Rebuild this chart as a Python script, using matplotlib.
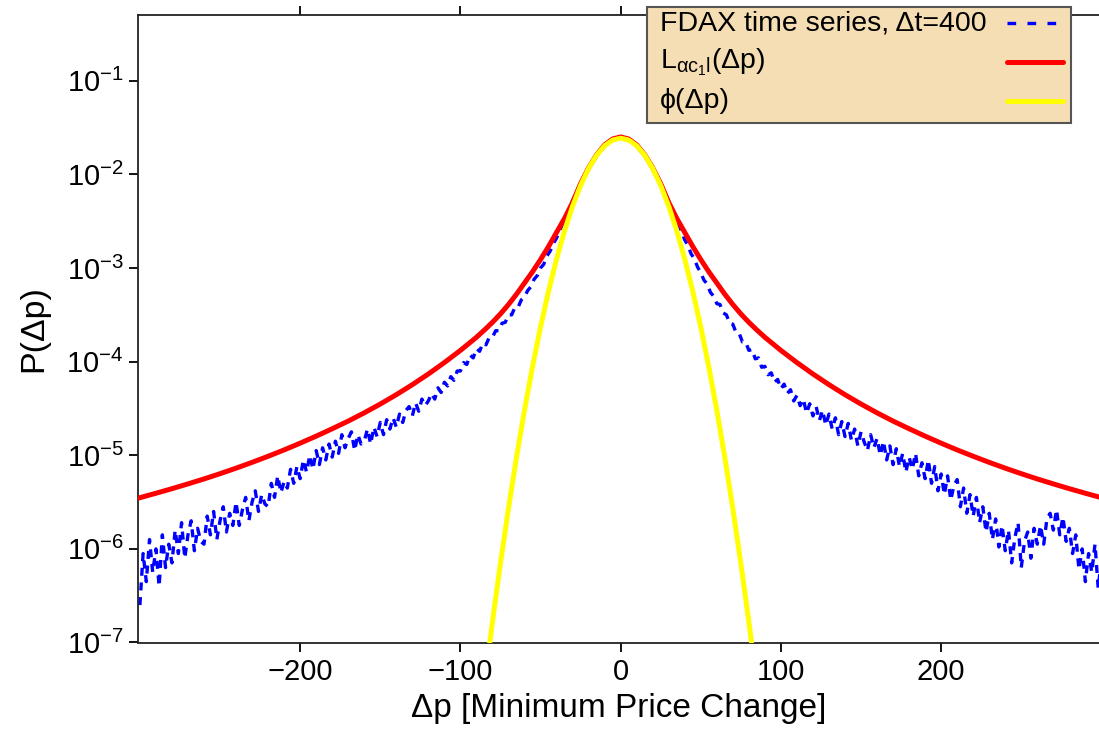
import numpy as np
import matplotlib
matplotlib.use("Agg")
import matplotlib.pyplot as plt
from matplotlib.lines import Line2D
from matplotlib.patches import Rectangle
from matplotlib.ticker import FixedLocator, FuncFormatter

plt.rcParams['font.family'] = ['Liberation Sans', 'DejaVu Sans']
plt.rcParams['mathtext.fontset'] = 'custom'
plt.rcParams['mathtext.rm'] = 'Liberation Sans'
plt.rcParams['mathtext.it'] = 'Liberation Sans'
plt.rcParams['mathtext.bf'] = 'Liberation Sans:bold'
plt.rcParams['mathtext.sf'] = 'Liberation Sans'

# ---------------- data (log10 of P) ----------------
# FDAX empirical distribution, dt = 400, sampled every 2 price units from -300 to 300
blue_x = np.arange(-300, 301, 2)
blue_log = [
    -6.60, -6.05, -6.35, -5.90, -6.25, -6.00, -6.40, -5.85, -6.20, -5.95,
    -6.15, -5.80, -6.05, -5.72, -6.10, -5.85, -5.70, -6.02, -5.78, -5.92,
    -5.95, -5.65, -5.85, -5.60, -5.90, -5.70, -5.55, -5.82, -5.62, -5.75,
    -5.50, -5.75, -5.58, -5.45, -5.70, -5.50, -5.38, -5.60, -5.42, -5.52,
    -5.55, -5.30, -5.45, -5.22, -5.40, -5.28, -5.35, -5.15, -5.30, -5.12,
    -5.25, -5.05, -5.18, -5.00, -5.15, -4.95, -5.10, -4.92, -5.05, -4.88,
    -5.02, -4.85, -4.98, -4.78, -4.92, -4.82, -4.75, -4.95, -4.78, -4.88,
    -4.85, -4.72, -4.88, -4.70, -4.80, -4.65, -4.78, -4.62, -4.72, -4.60,
    -4.70, -4.56, -4.65, -4.52, -4.48, -4.58, -4.44, -4.53, -4.40, -4.47,
    -4.42, -4.34, -4.40, -4.28, -4.33, -4.22, -4.26, -4.16, -4.20, -4.10,
    -4.10, -4.01, -4.03, -3.93, -3.96, -3.86, -3.89, -3.80, -3.82, -3.74,
    -3.74, -3.67, -3.67, -3.59, -3.58, -3.50, -3.50, -3.42, -3.42, -3.34,
    -3.31, -3.24, -3.20, -3.12, -3.08, -3.00, -2.96, -2.87, -2.82, -2.74,
    -2.68, -2.60, -2.52, -2.44, -2.36, -2.28, -2.21, -2.13, -2.06, -2.00,
    -1.94, -1.88, -1.83, -1.78, -1.74, -1.70, -1.67, -1.64, -1.62, -1.61,
    -1.60,
    -1.61, -1.62, -1.64, -1.67, -1.70, -1.74, -1.78, -1.83, -1.88, -1.94,
    -2.00, -2.06, -2.13, -2.21, -2.29, -2.37, -2.45, -2.53, -2.61, -2.70,
    -2.76, -2.85, -2.90, -2.99, -3.05, -3.13, -3.17, -3.26, -3.30, -3.38,
    -3.39, -3.48, -3.50, -3.59, -3.60, -3.69, -3.70, -3.79, -3.79, -3.88,
    -3.87, -3.97, -3.96, -4.06, -4.05, -4.14, -4.12, -4.22, -4.19, -4.29,
    -4.24, -4.34, -4.30, -4.42, -4.36, -4.47, -4.40, -4.55, -4.45, -4.58,
    -4.48, -4.63, -4.52, -4.68, -4.56, -4.72, -4.60, -4.78, -4.64, -4.80,
    -4.66, -4.84, -4.72, -4.90, -4.75, -4.86, -4.95, -4.78, -4.92, -4.82,
    -5.00, -4.85, -5.05, -4.90, -5.10, -4.93, -5.12, -4.98, -5.18, -5.02,
    -5.15, -4.98, -5.22, -5.08, -5.25, -5.05, -5.30, -5.12, -5.38, -5.20,
    -5.42, -5.22, -5.48, -5.32, -5.26, -5.55, -5.35, -5.62, -5.42, -5.65,
    -5.45, -5.72, -5.55, -5.82, -5.62, -5.90, -5.68, -5.98, -5.75, -6.02,
    -5.80, -6.15, -5.88, -5.72, -6.20, -5.92, -5.82, -6.10, -5.78, -5.95,
    -5.75, -5.95, -5.68, -5.62, -5.80, -5.58, -5.85, -5.66, -5.92, -5.78,
    -6.05, -5.85, -6.22, -6.00, -6.35, -6.05, -6.25, -5.95, -6.42, -6.10,
]

# Levy-type fit L_{alpha c1 l}
red_x = [-300, -290, -280, -270, -260, -250, -240, -230, -220, -210,
         -200, -190, -180, -170, -160, -150, -140, -130, -120, -110,
         -100, -95, -90, -85, -80, -75, -70, -65, -60, -55, -50, -45,
         -40, -35, -30, -25, -20, -15, -10, -5, 0,
         5, 10, 15, 20, 25, 30, 35, 40, 45, 50, 55, 60, 65, 70, 75, 80,
         85, 90, 95, 100, 110, 120, 130, 140, 150, 160, 170, 180, 190,
         200, 210, 220, 230, 240, 250, 260, 270, 280, 290, 300]
red_log = [-5.453, -5.406, -5.357, -5.306, -5.253, -5.197, -5.138, -5.076, -5.011, -4.943,
           -4.871, -4.796, -4.717, -4.635, -4.547, -4.453, -4.353, -4.246, -4.132, -4.010,
           -3.880, -3.810, -3.740, -3.662, -3.580, -3.490, -3.390, -3.280, -3.160, -3.040,
           -2.910, -2.770, -2.620, -2.470, -2.300, -2.100, -1.930, -1.790, -1.685, -1.622,
           -1.600,
           -1.622, -1.685, -1.790, -1.930, -2.100, -2.300, -2.470, -2.620, -2.770, -2.910,
           -3.040, -3.160, -3.280, -3.390, -3.490, -3.580, -3.662, -3.740, -3.810, -3.880,
           -4.010, -4.132, -4.246, -4.353, -4.453, -4.547, -4.635, -4.717, -4.796, -4.871,
           -4.943, -5.011, -5.076, -5.138, -5.197, -5.253, -5.306, -5.357, -5.406, -5.453]

# Gaussian phi
yel_x = [-85, -80, -75, -70, -65, -60, -55, -50, -45, -40, -35, -30, -25, -20,
         -15, -10, -5, 0, 5, 10, 15, 20, 25, 30, 35, 40, 45, 50, 55, 60, 65,
         70, 75, 80, 85]
yel_log = [-7.445, -6.779, -6.154, -5.568, -5.024, -4.519, -4.055, -3.631,
           -3.248, -2.905, -2.602, -2.340, -2.118, -1.936, -1.795, -1.694,
           -1.633, -1.613, -1.633, -1.694, -1.795, -1.936, -2.118, -2.340,
           -2.602, -2.905, -3.248, -3.631, -4.055, -4.519, -5.024, -5.568,
           -6.154, -6.779, -7.445]

x_ticks = [-200, -100, 0, 100, 200]
y_ticks = [1e-7, 1e-6, 1e-5, 1e-4, 1e-3, 1e-2, 1e-1]

legend_labels = ['FDAX time series, \u0394t=400',
                 'L$_{\\alpha c_1 l}$(\u0394p)',
                 '\u03d5(\u0394p)']

C_BLUE, C_RED, C_YEL = '#0000ff', '#ff0000', '#ffff00'
BLUE_DASH = (0, (2.4, 2.0))
BLUE_DASH_KEY = (0, (2.6, 3.4))

# ---------------- figure ----------------
W, H = 1099, 735
fig = plt.figure(figsize=(W / 100, H / 100), dpi=100)
ax = fig.add_axes([138.3 / W, 1 - 642.5 / H, (W - 138.3) / W, (642.5 - 15) / H])

ax.plot(blue_x, np.power(10.0, blue_log), color=C_BLUE, lw=2.4,
        linestyle=BLUE_DASH, zorder=2)
ax.plot(red_x, np.power(10.0, red_log), color=C_RED, lw=3.6,
        solid_joinstyle='round', zorder=3)
ax.plot(yel_x, np.power(10.0, yel_log), color=C_YEL, lw=3.6,
        solid_joinstyle='round', zorder=4)

ax.set_yscale('log')
ax.set_xlim(-301, 298.5)
ax.set_ylim(1e-7, 0.504)

ax.xaxis.set_major_locator(FixedLocator(x_ticks))
ax.yaxis.set_major_locator(FixedLocator(y_ticks))
ax.yaxis.set_minor_locator(FixedLocator([]))
ax.yaxis.set_major_formatter(FuncFormatter(
    lambda v, p: r'$10^{%d}$' % int(round(np.log10(v)))))

ax.tick_params(axis='x', which='major', direction='out', length=6.5, width=1.3,
               top=True, labelsize=21, pad=5)
ax.tick_params(axis='y', which='major', direction='out', length=6.5, width=1.3,
               right=False, labelsize=21, pad=4)
for side in ['left', 'bottom', 'top']:
    ax.spines[side].set_linewidth(1.3)
    ax.spines[side].set_color('#222222')
ax.spines['right'].set_visible(False)

ax.set_xlabel('\u0394p [Minimum Price Change]', fontsize=24, labelpad=5)
ax.set_ylabel('P(\u0394p)', fontsize=24.5, labelpad=12)

# ---------------- legend (gnuplot style: text left, sample right) ----------------
tf = fig.transFigure
box = Rectangle((647 / W, 1 - 123 / H), (1071 - 647) / W, (123 - 7) / H,
                transform=tf, facecolor='#f5deb3', edgecolor='#555555',
                lw=1.5, zorder=10)
fig.add_artist(box)
rows_y = [23, 62, 101]
styles = [dict(color=C_BLUE, lw=2.4, linestyle=BLUE_DASH_KEY),
          dict(color=C_RED, lw=3.6, solid_capstyle='round'),
          dict(color=C_YEL, lw=3.6, solid_capstyle='round')]
for lab, ry, st in zip(legend_labels, rows_y, styles):
    fig.text(660 / W, 1 - ry / H, lab, fontsize=20.5, va='center', ha='left',
             zorder=11)
    fig.add_artist(Line2D([1007 / W, 1063 / W], [1 - ry / H, 1 - ry / H],
                          transform=tf, zorder=11, **st))

fig.savefig('out.png', dpi=100)
